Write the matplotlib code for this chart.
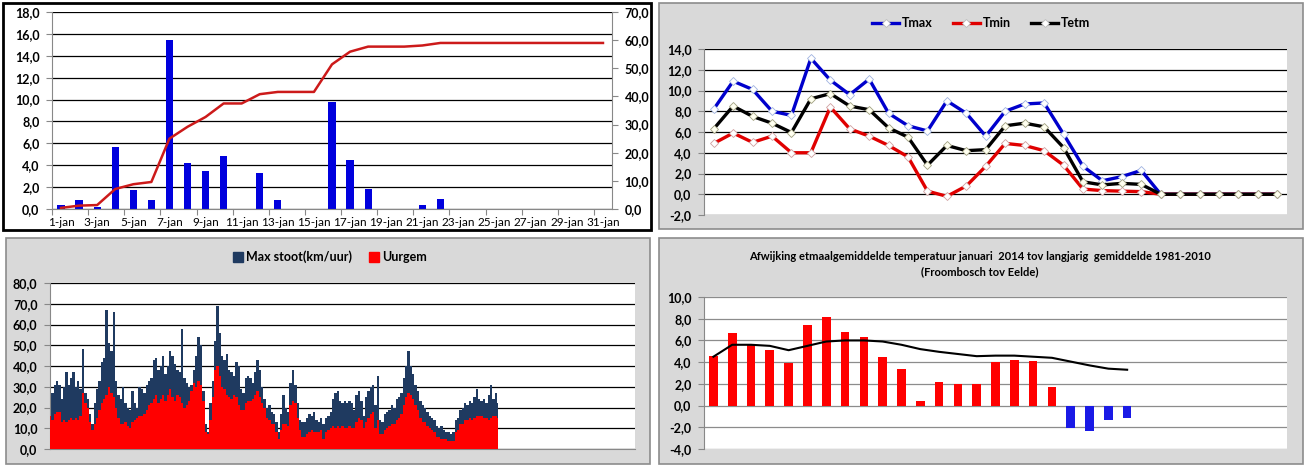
import matplotlib.pyplot as plt
import numpy as np
from matplotlib.patches import Rectangle, Patch
from matplotlib.lines import Line2D
from matplotlib.ticker import FuncFormatter, FixedLocator

plt.rcParams['font.family'] = ['Lato', 'DejaVu Sans']

# neerslag per dag en cumulatief (mm)
days = list(range(1, 32))
day_labels = [f'{d}-jan' for d in days]
rain = [0.4, 0.8, 0.2, 5.7, 1.7, 0.8, 15.4, 4.2, 3.5, 4.8, 0.0, 3.3, 0.8, 0.0, 0.0, 9.8,
        4.5, 1.8, 0.0, 0.0, 0.4, 0.9, 0.0, 0.0, 0.0, 0.0, 0.0, 0.0, 0.0, 0.0, 0.0]
rain_cum = [0.4, 1.2, 1.4, 7.1, 8.8, 9.6, 25.0, 29.2, 32.7, 37.5, 37.5, 40.8, 41.6, 41.6,
            41.6, 51.4, 55.9, 57.7, 57.7, 57.7, 58.1, 59.0, 59.0, 59.0, 59.0, 59.0, 59.0,
            59.0, 59.0, 59.0, 59.0]

# temperaturen (30 punten)
tmax = [8.2, 10.9, 10.1, 8.0, 7.6, 13.1, 11.0, 9.6, 11.1, 7.8, 6.6, 6.1, 9.0, 7.8, 5.6,
        8.0, 8.7, 8.8, 5.8, 2.7, 1.3, 1.7, 2.3, 0, 0, 0, 0, 0, 0, 0]
tmin = [4.9, 5.9, 5.0, 5.6, 4.0, 4.0, 8.4, 6.3, 5.6, 4.7, 3.6, 0.3, -0.2, 0.8, 2.7,
        4.9, 4.7, 4.2, 2.8, 0.5, 0.35, 0.3, 0.25, 0, 0, 0, 0, 0, 0, 0]
tetm = [6.3, 8.5, 7.5, 6.85, 5.95, 9.2, 9.7, 8.5, 8.15, 6.4, 5.5, 2.8, 4.7, 4.2, 4.3,
        6.6, 6.85, 6.5, 4.5, 1.2, 0.9, 1.05, 0.95, 0, 0, 0, 0, 0, 0, 0]

# wind, 3-uurlijks (km/uur)
gust = [32, 27, 31, 33, 31, 24, 30, 37, 31, 34, 37, 30, 33, 29, 48, 27, 24, 17, 12, 22,
        29, 33, 42, 44, 67, 51, 47, 66, 33, 26, 24, 30, 22, 20, 19, 28, 22, 20, 30, 29,
        27, 31, 33, 34, 43, 44, 38, 40, 45, 36, 40, 47, 45, 41, 38, 37, 58, 34, 32, 30,
        31, 38, 45, 54, 50, 28, 12, 8, 22, 33, 52, 69, 56, 45, 43, 46, 38, 37, 35, 42,
        40, 29, 27, 34, 35, 34, 32, 37, 43, 38, 30, 24, 20, 21, 18, 17, 13, 8, 17, 26,
        20, 18, 32, 38, 31, 22, 14, 13, 13, 15, 17, 16, 18, 14, 13, 15, 12, 15, 16, 18,
        24, 27, 28, 23, 22, 23, 22, 23, 22, 19, 26, 28, 23, 16, 25, 28, 30, 31, 21, 35,
        14, 13, 17, 18, 19, 21, 20, 24, 25, 27, 34, 40, 47, 40, 36, 31, 28, 23, 21, 20,
        18, 16, 15, 14, 11, 10, 11, 9, 8, 8, 7, 8, 14, 15, 19, 20, 22, 21, 23, 22,
        25, 29, 24, 23, 24, 22, 26, 31, 24, 27, 22]
wind_mean = [16, 14, 17, 18, 18, 13, 14, 13, 14, 15, 14, 15, 14, 16, 27, 22, 20, 13, 9, 12,
             15, 19, 22, 24, 26, 30, 27, 25, 20, 15, 12, 12, 13, 11, 10, 13, 14, 15, 16, 16,
             17, 19, 21, 22, 24, 26, 22, 24, 26, 23, 26, 29, 25, 23, 26, 25, 22, 20, 21, 23,
             28, 32, 30, 33, 31, 23, 8, 7, 14, 25, 38, 40, 35, 30, 29, 26, 25, 24, 26, 25,
             21, 19, 19, 22, 23, 23, 24, 26, 28, 25, 22, 20, 15, 14, 12, 12, 8, 5, 9, 12,
             12, 11, 21, 23, 22, 15, 9, 6, 6, 7, 8, 9, 8, 8, 8, 9, 5, 8, 9, 10,
             11, 10, 11, 10, 11, 10, 10, 11, 10, 10, 13, 15, 14, 10, 13, 15, 17, 18, 10, 14,
             7, 7, 9, 10, 11, 12, 12, 14, 15, 17, 21, 25, 27, 26, 24, 21, 19, 15, 13, 13,
             11, 10, 9, 8, 6, 6, 5, 5, 5, 4, 4, 4, 8, 9, 12, 12, 14, 14, 15, 14,
             15, 16, 16, 16, 15, 15, 14, 15, 16, 16, 15]

# afwijking etmaaltemperatuur
afw_days = list(range(1, 24))
afw = [4.6, 6.7, 5.6, 5.1, 3.9, 7.4, 8.2, 6.8, 6.3, 4.5, 3.4, 0.4, 2.2, 2.0, 2.0, 4.0,
       4.2, 4.1, 1.7, -2.1, -2.3, -1.3, -1.1]
afw_trend = [4.5, 5.6, 5.6, 5.5, 5.1, 5.5, 5.9, 6.0, 6.0, 5.9, 5.6, 5.2, 4.95, 4.75, 4.55,
             4.6, 4.6, 4.5, 4.4, 4.05, 3.7, 3.4, 3.3]

W, H = 1313, 472
fig = plt.figure(figsize=(W / 100, H / 100), dpi=100)
fig.patch.set_facecolor('white')


def box(x0, y0, x1, y1):
    return [x0 / W, 1 - y1 / H, (x1 - x0) / W, (y1 - y0) / H]


def comma(v, pos=None):
    return f'{v:.1f}'.replace('.', ',')


def style_y(ax, grid_color='black'):
    ax.yaxis.set_major_formatter(FuncFormatter(comma))
    ax.tick_params(axis='y', labelsize=9, length=4, color='#888888', pad=5)
    for t in ax.get_yticklabels():
        t.set_fontweight('bold')
    ax.yaxis.grid(True, color=grid_color, lw=0.9)
    ax.set_axisbelow(True)
    for s in ['top', 'right']:
        ax.spines[s].set_visible(False)
    for s in ['left', 'bottom']:
        ax.spines[s].set_color('#888888')


# achtergrond-kaders
fig.patches.append(Rectangle((3 / W, 1 - 230 / H), 648 / W, 227 / H, transform=fig.transFigure,
                             facecolor='white', edgecolor='black', lw=2, zorder=-10))
for x0, y0, x1, y1 in [(659, 3, 1303, 229), (6, 238, 650, 464), (659, 238, 1303, 464)]:
    fig.patches.append(Rectangle((x0 / W, 1 - y1 / H), (x1 - x0) / W, (y1 - y0) / H,
                                 transform=fig.transFigure, facecolor='#d9d9d9',
                                 edgecolor='#8c8c8c', lw=1.2, zorder=-10))

# --- paneel 1: neerslag
ax1 = fig.add_axes(box(52, 12, 612, 209))
ax1.bar(days, rain, width=0.4, color='#0000dd', zorder=2)
ax1.set_xlim(0.5, 31.5)
ax1.set_ylim(0, 18)
ax1.set_yticks(np.arange(0, 19, 2))
style_y(ax1)
ax1.xaxis.set_major_locator(FixedLocator(np.arange(0.5, 31, 2)))
ax1.xaxis.set_minor_locator(FixedLocator(days[::2]))
ax1.set_xticklabels([])
ax1.set_xticklabels(day_labels[::2], minor=True)
ax1.tick_params(axis='x', which='major', length=4, color='#888888')
ax1.tick_params(axis='x', which='minor', length=0, labelsize=8.5, pad=6)

ax2 = ax1.twinx()
ax2.plot(days, rain_cum, color='#cc1a1a', lw=1.8, zorder=3)
ax2.set_ylim(0, 70)
ax2.set_yticks(np.arange(0, 71, 10))
ax2.yaxis.set_major_formatter(FuncFormatter(comma))
ax2.tick_params(axis='y', labelsize=9, length=4, color='#888888', pad=5)
for t in ax2.get_yticklabels():
    t.set_fontweight('bold')
for s in ['top', 'left', 'bottom']:
    ax2.spines[s].set_visible(False)
ax2.spines['right'].set_color('#888888')

# --- paneel 2: temperaturen
ax3 = fig.add_axes(box(704, 49, 1287, 215))
tx = list(range(1, len(tmax) + 1))
mk = dict(marker='D', markersize=4.5, markerfacecolor='white', markeredgewidth=0.6)
ax3.plot(tx, tmax, color='#0000cc', lw=2.4, markeredgecolor='#9fb3e0', **mk)
ax3.plot(tx, tmin, color='#e00000', lw=2.4, markeredgecolor='#d0a0a0', **mk)
ax3.plot(tx, tetm, color='black', lw=2.4, markeredgecolor='#a0a080',
         marker='D', markersize=4.5, markerfacecolor='#fffff0', markeredgewidth=0.6)
ax3.set_xlim(0.5, 30.5)
ax3.set_ylim(-2, 14)
ax3.set_yticks(np.arange(-2, 15, 2))
style_y(ax3)
ax3.spines['bottom'].set_visible(False)
ax3.set_xticks([])
h_t = [Line2D([], [], color=c, lw=2.4, marker='D', markersize=4.5, markerfacecolor='white',
              markeredgecolor='#bbbbbb', markeredgewidth=0.6) for c in ['#0000cc', '#e00000', 'black']]
leg = fig.legend(h_t, ['Tmax', 'Tmin', 'Tetm'], loc='center', bbox_to_anchor=(981 / W, 1 - 23 / H),
                 ncol=3, frameon=False, handlelength=2.2, columnspacing=1.6, handletextpad=0.2,
                 prop={'size': 9, 'weight': 'bold'})

# --- paneel 3: wind
ax4 = fig.add_axes(box(50, 283, 635, 449))
hours = np.arange(len(gust)) * 3
ax4.fill_between(hours, gust, 0, color='#1f3a60', lw=0, step='mid', zorder=2)
ax4.fill_between(hours, wind_mean, 0, color='#ff0000', lw=0, step='mid', zorder=3)
ax4.set_xlim(0, 744)
ax4.set_ylim(0, 80)
ax4.set_yticks(np.arange(0, 81, 10))
style_y(ax4)
ax4.set_xticks([])
h_w = [Patch(color='#1f3a60'), Patch(color='#ff0000')]
fig.legend(h_w, ['Max stoot(km/uur)', 'Uurgem'], loc='center', bbox_to_anchor=(330 / W, 1 - 257 / H),
           ncol=2, frameon=False, handlelength=0.8, handleheight=0.8, columnspacing=1.4,
           handletextpad=0.2, prop={'size': 9, 'weight': 'bold'})

# --- paneel 4: afwijking
ax5 = fig.add_axes(box(704, 297, 1287, 449))
cols = ['#ff0000' if v >= 0 else '#1a1ae6' for v in afw]
ax5.bar(afw_days, afw, width=0.46, color=cols, zorder=2)
ax5.plot(afw_days, afw_trend, color='black', lw=1.5, zorder=3)
ax5.set_xlim(0.5, 31.5)
ax5.set_ylim(-4, 10)
ax5.set_yticks(np.arange(-4, 11, 2))
style_y(ax5, grid_color='#8c8c8c')
ax5.spines['bottom'].set_visible(False)
ax5.set_xticks([])
fig.text(980 / W, 1 - 257 / H,
         'Afwijking etmaalgemiddelde temperatuur januari  2014 tov langjarig  gemiddelde 1981-2010',
         ha='center', va='center', fontsize=8, fontweight='bold')
fig.text(980 / W, 1 - 272 / H, '(Froombosch tov Eelde)', ha='center', va='center',
         fontsize=8, fontweight='bold')

fig.savefig('out.png', dpi=100)
